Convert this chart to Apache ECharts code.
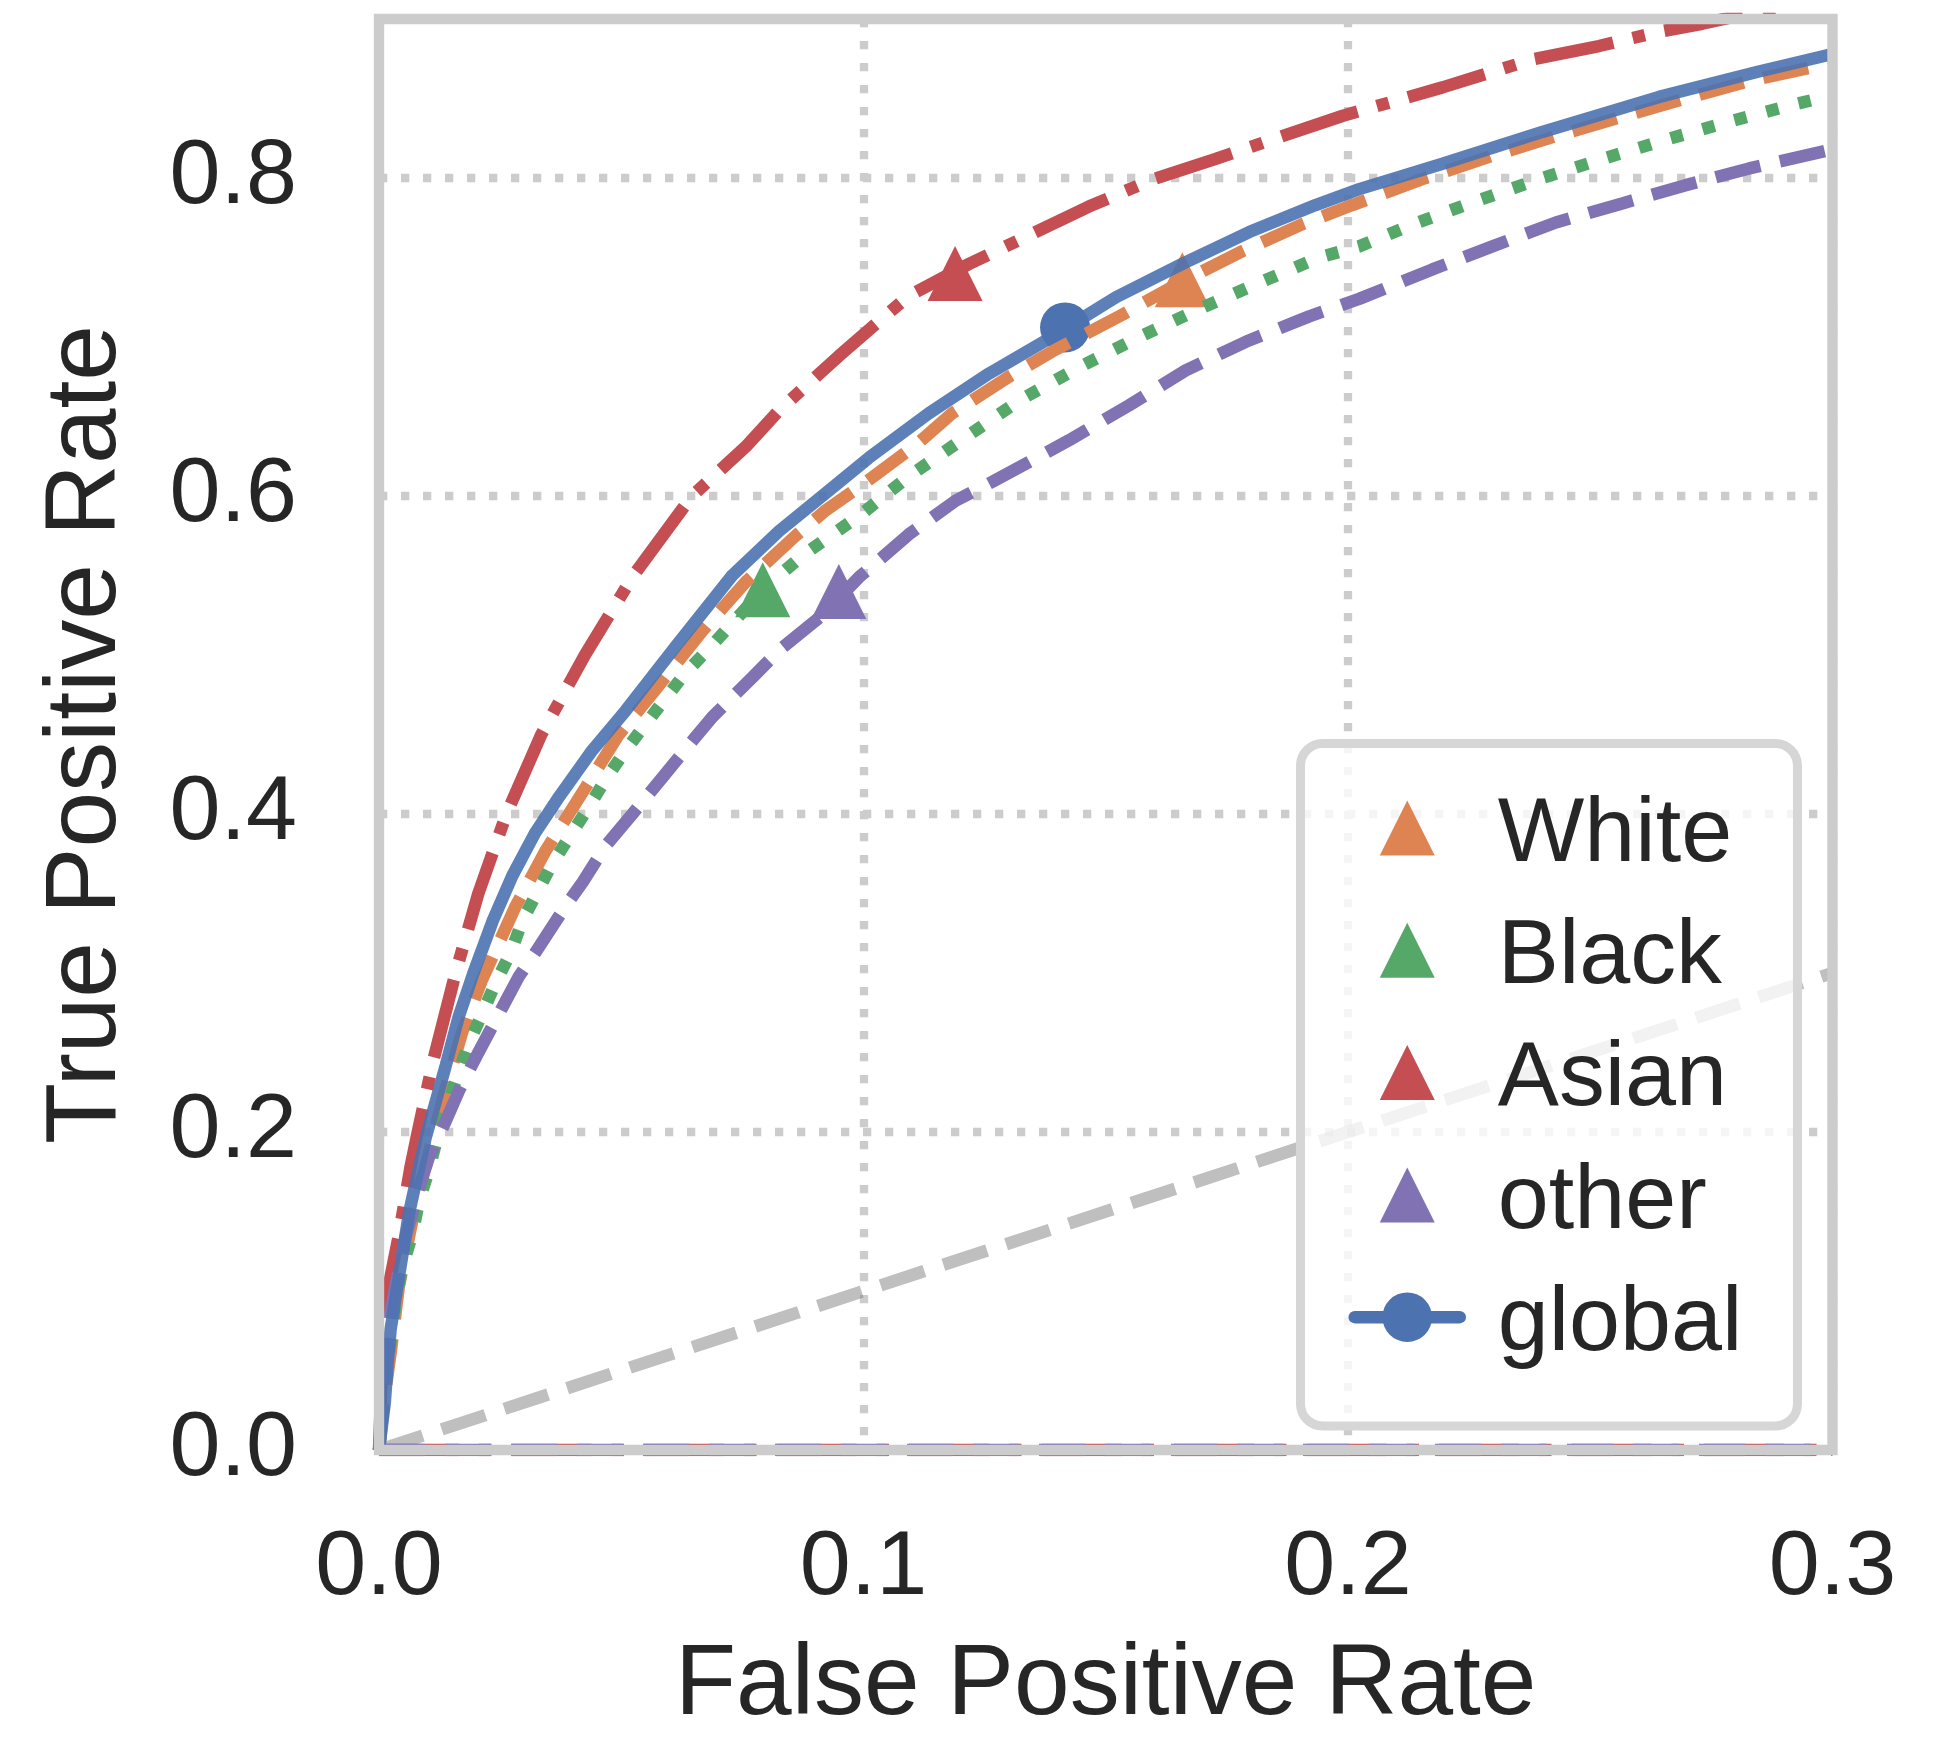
<!DOCTYPE html>
<html>
<head>
<meta charset="utf-8">
<script src="https://cdn.jsdelivr.net/npm/echarts@6/dist/echarts.min.js"></script>
<style>
html, body { margin: 0; padding: 0; background: #fff; }
#main { width: 1948px; height: 1741px; }
</style>
</head>
<body>
<div id="main"></div>
<script>
var myChart = echarts.init(document.getElementById('main'));

// ROC curves, [false positive rate, true positive rate]
var globalRoc = [
	[0, 0], [0.0012, 0.030], [0.0017, 0.051], [0.0024, 0.076], [0.0038, 0.103],
	[0.0062, 0.149], [0.0096, 0.196], [0.0138, 0.242], [0.0165, 0.273], [0.0195, 0.300],
	[0.0235, 0.333], [0.0275, 0.361], [0.0322, 0.388], [0.0372, 0.411], [0.0440, 0.440],
	[0.0509, 0.465], [0.0619, 0.508], [0.0729, 0.550], [0.0826, 0.578],
	[0.0943, 0.607], [0.1011, 0.624], [0.1135, 0.652], [0.1259, 0.677], [0.1383, 0.699],
	[0.1521, 0.725], [0.1658, 0.746], [0.1796, 0.766], [0.1933, 0.783], [0.2023, 0.793],
	[0.2195, 0.809], [0.2401, 0.829], [0.2642, 0.851], [0.2848, 0.867], [0.3, 0.878]
];
var whiteRoc = [
	[0, 0], [0.0010, 0.030], [0.0024, 0.061], [0.0041, 0.103], [0.0076, 0.155],
	[0.0138, 0.228], [0.0172, 0.263], [0.0213, 0.296], [0.0282, 0.342], [0.0344, 0.377],
	[0.0427, 0.417], [0.0495, 0.450], [0.0578, 0.481], [0.0667, 0.515], [0.0757, 0.546],
	[0.0860, 0.575], [0.0922, 0.591], [0.0997, 0.607], [0.1108, 0.632], [0.1183, 0.652],
	[0.1300, 0.675], [0.1390, 0.691], [0.1534, 0.714], [0.1658, 0.735], [0.1782, 0.754],
	[0.1906, 0.771], [0.2009, 0.783], [0.2160, 0.800], [0.2298, 0.814], [0.2436, 0.827],
	[0.2559, 0.838], [0.2697, 0.850], [0.2828, 0.861], [0.3, 0.8725]
];
var blackRoc = [
	[0, 0], [0.0010, 0.030], [0.0020, 0.060], [0.0034, 0.0925], [0.0048, 0.115],
	[0.0069, 0.136], [0.0083, 0.157], [0.0103, 0.176], [0.0120, 0.196], [0.0162, 0.236],
	[0.0186, 0.256], [0.0213, 0.2745], [0.0241, 0.294], [0.0272, 0.313], [0.0296, 0.333],
	[0.0327, 0.351], [0.0358, 0.369], [0.0396, 0.387], [0.0433, 0.4045], [0.0468, 0.422],
	[0.0509, 0.440], [0.0550, 0.4565], [0.0592, 0.473], [0.0633, 0.489], [0.0681, 0.504],
	[0.0729, 0.520], [0.0792, 0.541], [0.0874, 0.5626], [0.0991, 0.5875], [0.1094, 0.6125],
	[0.1211, 0.637], [0.1321, 0.660], [0.1445, 0.681], [0.1569, 0.700], [0.1692, 0.7175],
	[0.1816, 0.734], [0.1940, 0.750], [0.2023, 0.757], [0.2140, 0.7716], [0.2270, 0.786],
	[0.2401, 0.800], [0.2532, 0.8126], [0.2662, 0.8246], [0.2793, 0.836], [0.2924, 0.8465],
	[0.3, 0.852]
];
var asianRoc = [
	[0, 0], [0.0006, 0.050], [0.0018, 0.100], [0.0041, 0.135], [0.0065, 0.178],
	[0.0080, 0.200], [0.0112, 0.245], [0.0158, 0.300], [0.0205, 0.350], [0.0263, 0.400],
	[0.0335, 0.450], [0.0425, 0.500], [0.0525, 0.550], [0.0646, 0.600], [0.0757, 0.631],
	[0.0826, 0.654], [0.0949, 0.688], [0.1032, 0.710], [0.1094, 0.726], [0.1218, 0.746],
	[0.1342, 0.764], [0.1465, 0.782], [0.1596, 0.799], [0.1727, 0.812], [0.1851, 0.825],
	[0.1988, 0.839], [0.2195, 0.857], [0.2380, 0.8745], [0.2518, 0.883], [0.2642, 0.892],
	[0.2731, 0.897], [0.3, 0.915]
];
var otherRoc = [
	[0, 0], [0.0010, 0.040], [0.0021, 0.082], [0.0034, 0.103], [0.0055, 0.134],
	[0.0083, 0.165], [0.0103, 0.184], [0.0138, 0.207], [0.0165, 0.226], [0.0206, 0.2505],
	[0.0254, 0.278], [0.0289, 0.298], [0.0323, 0.313], [0.0385, 0.342], [0.0420, 0.357],
	[0.0468, 0.380], [0.0523, 0.400], [0.0585, 0.423], [0.0647, 0.446], [0.0688, 0.461],
	[0.0771, 0.486], [0.0826, 0.503], [0.0915, 0.525], [0.0991, 0.549], [0.1039, 0.5615],
	[0.1094, 0.576], [0.1190, 0.597], [0.1266, 0.609], [0.1424, 0.635], [0.1548, 0.657],
	[0.1665, 0.679], [0.1789, 0.697], [0.1920, 0.713], [0.2023, 0.724], [0.2174, 0.7425],
	[0.2298, 0.757], [0.2429, 0.772], [0.2566, 0.784], [0.2697, 0.7955], [0.2828, 0.806],
	[0.3, 0.818]
];
var chanceLine = [[0, 0], [0.3, 0.3]];
var floorLine = [[0, 0], [0.3, 0]];

// operating points
var whitePoint = [0.1658, 0.736];
var blackPoint = [0.0792, 0.541];
var asianPoint = [0.1189, 0.740];
var otherPoint = [0.0949, 0.540];
var globalPoint = [0.1416, 0.706];

var legendNames = ['White', 'Black', 'Asian', 'other', 'global'];

var blue = '#4C72B0', orange = '#DD8452', green = '#55A868', red = '#C44E52', purple = '#8172B3';
var ink = '#262626';
var font = 'Liberation Sans, Arial, sans-serif';
var lw = 12.5;
var dashed = [46, 20];
var dotted = [12.5, 20.6];
var dashDot = [80, 20, 12.5, 20];
// triangle with some empty room so the legend draws it 55px inside a 62px box
var triIcon = 'path://M0,0M62,62M31,3.5L58.5,58.5L3.5,58.5Z';

function curve(name, data, color, dash, opacity) {
	return {
		name: name,
		type: 'line',
		data: data,
		symbol: 'none',
		showSymbol: false,
		silent: true,
		clip: true,
		lineStyle: { color: color, width: lw, type: dash, opacity: opacity == null ? 1 : opacity },
		itemStyle: { color: color },
		emphasis: { disabled: true }
	};
}
function marker(name, point, color, symbol, size) {
	return {
		name: name,
		type: 'scatter',
		data: [point],
		symbol: symbol,
		symbolSize: size,
		silent: true,
		itemStyle: { color: color, opacity: 1 },
		emphasis: { disabled: true }
	};
}

var option = {
	backgroundColor: '#ffffff',
	animation: false,
	textStyle: { fontFamily: font },
	grid: {
		left: 379,
		top: 19,
		right: 115.5,
		bottom: 279.5,
		show: true,
		z: 10,
		backgroundColor: 'transparent',
		borderColor: '#cccccc',
		borderWidth: 10.4
	},
	legend: {
		data: [
			{ name: legendNames[0], icon: triIcon },
			{ name: legendNames[1], icon: triIcon },
			{ name: legendNames[2], icon: triIcon },
			{ name: legendNames[3], icon: triIcon },
			{ name: legendNames[4], lineStyle: { width: 12.5, cap: 'round', opacity: 1 } }
		],
		orient: 'vertical',
		left: 1300.5,
		top: 743.5,
		itemWidth: 105,
		itemHeight: 62,
		itemGap: 15.3,
		padding: [31, 55, 55.3, 48],
		backgroundColor: 'rgba(255,255,255,0.8)',
		borderColor: '#d6d6d6',
		borderWidth: 9,
		borderRadius: 22,
		selectedMode: false,
		z: 20,
		formatter: '{t|{name}}',
		textStyle: {
			color: ink,
			fontSize: 91.7,
			fontFamily: font,
			rich: {
				t: {
					color: ink,
					fontSize: 91.7,
					fontFamily: font,
					lineHeight: 77,
					padding: [15, 0, 0, 33]
				}
			}
		}
	},
	xAxis: {
		type: 'value',
		min: 0,
		max: 0.3,
		interval: 0.1,
		name: 'False Positive Rate',
		nameLocation: 'middle',
		nameGap: 186,
		nameTextStyle: { color: ink, fontSize: 100, fontFamily: font },
		axisLine: { show: false },
		axisTick: { show: false },
		axisLabel: {
			color: ink,
			fontSize: 91.7,
			fontFamily: font,
			margin: 73,
			formatter: function (v) { return v.toFixed(1); }
		},
		splitLine: {
			show: true,
			lineStyle: { color: '#cccccc', width: 8.3, type: [8.3, 13.7] }
		}
	},
	yAxis: {
		type: 'value',
		min: 0,
		max: 0.9,
		interval: 0.2,
		name: 'True Positive Rate',
		nameLocation: 'middle',
		nameGap: 242,
		nameTextStyle: { color: ink, fontSize: 100, fontFamily: font },
		axisLine: { show: false },
		axisTick: { show: false },
		axisLabel: {
			color: ink,
			fontSize: 91.7,
			fontFamily: font,
			margin: 82,
			showMaxLabel: false,
			formatter: function (v) { return v.toFixed(1); }
		},
		splitLine: {
			show: true,
			lineStyle: { color: '#cccccc', width: 8.3, type: [8.3, 13.7] }
		}
	},
	series: [
		curve('chance', chanceLine, 'rgba(128,128,128,0.5)', dashed),
		curve('floor asian', floorLine, red, dashDot),
		curve('floor other', floorLine, purple, dashed),
		curve('White roc', whiteRoc, orange, dashed),
		curve('Black roc', blackRoc, green, dotted),
		curve('Asian roc', asianRoc, red, dashDot),
		curve('other roc', otherRoc, purple, dashed),
		marker('White', whitePoint, orange, 'triangle', 55),
		marker('Black', blackPoint, green, 'triangle', 55),
		marker('Asian', asianPoint, red, 'triangle', 55),
		marker('other', otherPoint, purple, 'triangle', 55),
		curve('global', globalRoc, blue, 'solid', 0.9),
		marker('global point', globalPoint, blue, 'circle', 50)
	]
};
myChart.setOption(option, true);
</script>
</body>
</html>
